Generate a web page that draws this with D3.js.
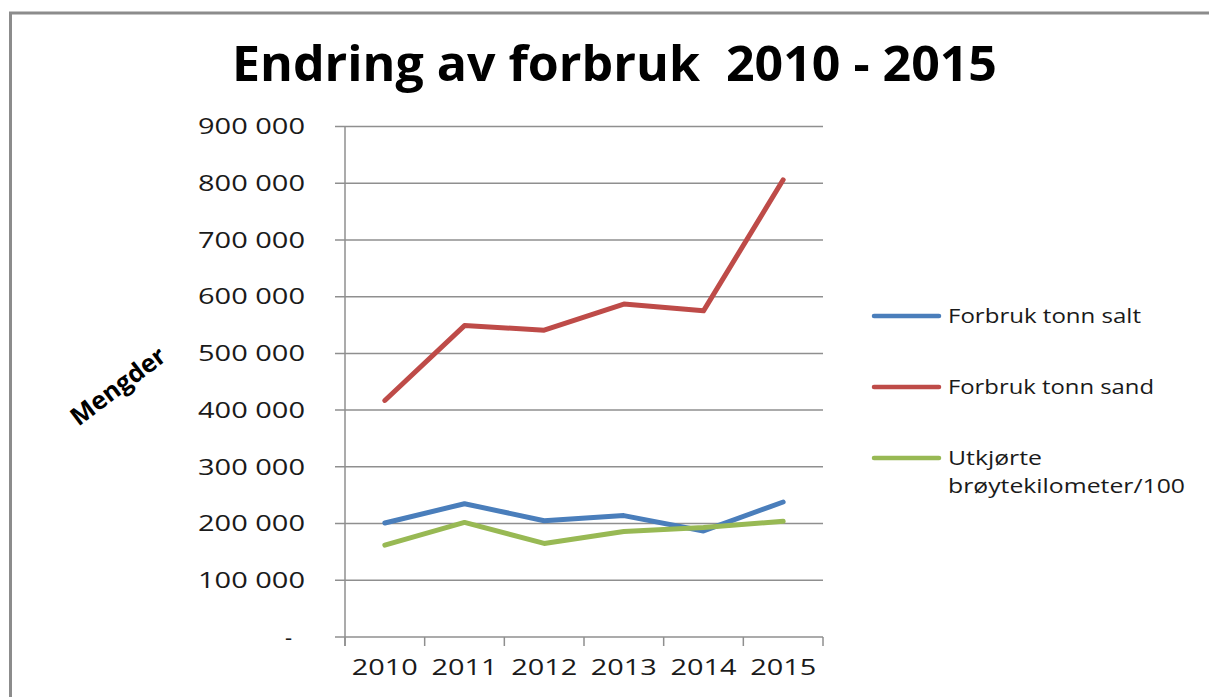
<!DOCTYPE html>
<html>
<head>
<meta charset="utf-8">
<script src="https://cdn.jsdelivr.net/npm/d3@7"></script>
<style>
  body { margin: 0; background: #fff; }
  svg { display: block; }
</style>
</head>
<body>
<svg id="chart" width="1209" height="697"></svg>
<script>
const years = ['2010', '2011', '2012', '2013', '2014', '2015'];
const saltValues = [201000, 235000, 205000, 214000, 187000, 238000];
const sandValues = [417000, 549000, 541000, 587000, 575000, 806000];
const kmValues = [162000, 202000, 165000, 186000, 193000, 204000];
const seriesNames = ['Forbruk tonn salt', 'Forbruk tonn sand', 'Utkjørte brøytekilometer/100'];
const seriesColors = ['#4A7EBB', '#BE4B48', '#98B954'];
const yTicks = [0, 100000, 200000, 300000, 400000, 500000, 600000, 700000, 800000, 900000];

const svg = d3.select('#chart');

// chart frame (only top and left edges visible)
svg.append('rect')
    .attr('x', 10.5).attr('y', 13)
    .attr('width', 1260).attr('height', 760)
    .attr('fill', '#fff')
    .attr('stroke', '#8c8c8c')
    .attr('stroke-width', 3);

svg.append('text')
    .attr('x', 232).attr('y', 81)
    .attr('textLength', 765)
    .attr('lengthAdjust', 'spacingAndGlyphs')
    .style('font-family', '"Open Sans", sans-serif')
    .style('font-weight', 'bold')
    .style('font-size', '48px')
    .style('fill', '#000')
    .style('white-space', 'pre')
    .text('Endring av forbruk  2010 - 2015');

const x = d3.scaleBand().domain(years).range([345, 823]);
const y = d3.scaleLinear().domain([0, 900000]).range([637, 126.5]);

// horizontal gridlines
svg.append('g').selectAll('line')
    .data(yTicks)
    .enter()
    .append('line')
    .attr('x1', 335).attr('x2', 823)
    .attr('y1', d => y(d)).attr('y2', d => y(d))
    .attr('stroke', '#8f8f8f')
    .attr('stroke-width', 1.5);

// y axis line
svg.append('line')
    .attr('x1', 345).attr('x2', 345)
    .attr('y1', y(900000)).attr('y2', 646)
    .attr('stroke', '#8f8f8f')
    .attr('stroke-width', 1.5);

// x ticks at category boundaries
const boundaries = years.map(d => x(d)).concat([x.range()[1]]);
svg.append('g').selectAll('line')
    .data(boundaries)
    .enter()
    .append('line')
    .attr('x1', d => d).attr('x2', d => d)
    .attr('y1', y(0)).attr('y2', 646)
    .attr('stroke', '#8f8f8f')
    .attr('stroke-width', 1.5);

const fmt = v => v === 0 ? '-' : d3.format(',')(v).replace(/,/g, ' ');

svg.append('g').selectAll('text')
    .data(yTicks)
    .enter()
    .append('text')
    .attr('x', d => d === 0 ? 292 : 305)
    .attr('y', d => y(d))
    .attr('dy', '0.35em')
    .attr('text-anchor', 'end')
    .attr('textLength', d => d === 0 ? null : 107)
    .attr('lengthAdjust', 'spacingAndGlyphs')
    .style('font-family', '"Open Sans", sans-serif')
    .style('font-size', '22px')
    .style('fill', '#1a1a1a')
    .text(fmt);

svg.append('g').selectAll('text')
    .data(years)
    .enter()
    .append('text')
    .attr('x', d => x(d) + x.bandwidth() / 2)
    .attr('y', 667)
    .attr('dy', '0.35em')
    .attr('text-anchor', 'middle')
    .attr('textLength', 66)
    .attr('lengthAdjust', 'spacingAndGlyphs')
    .style('font-family', '"Open Sans", sans-serif')
    .style('font-size', '22px')
    .style('fill', '#1a1a1a')
    .text(d => d);

svg.append('text')
    .attr('transform', 'translate(118,386) rotate(-37)')
    .attr('text-anchor', 'middle')
    .attr('dy', '0.35em')
    .attr('textLength', 112)
    .attr('lengthAdjust', 'spacingAndGlyphs')
    .style('font-family', '"Open Sans", sans-serif')
    .style('font-weight', 'bold')
    .style('font-size', '25px')
    .style('fill', '#000')
    .text('Mengder');

// series lines
const allSeries = [saltValues, sandValues, kmValues];
const line = d3.line()
    .x((d, i) => x(years[i]) + x.bandwidth() / 2)
    .y(d => y(d));

svg.append('g').selectAll('path')
    .data(allSeries)
    .enter()
    .append('path')
    .attr('d', line)
    .attr('fill', 'none')
    .attr('stroke', (d, i) => seriesColors[i])
    .attr('stroke-width', 5)
    .attr('stroke-linejoin', 'round')
    .attr('stroke-linecap', 'round');

// legend
const legendY = [316, 387, 458];
const legend = svg.append('g').selectAll('g')
    .data(seriesNames)
    .enter()
    .append('g')
    .attr('transform', (d, i) => `translate(0, ${legendY[i]})`);

legend.append('line')
    .attr('x1', 874).attr('x2', 939)
    .attr('y1', 0).attr('y2', 0)
    .attr('stroke', (d, i) => seriesColors[i])
    .attr('stroke-width', 4.5)
    .attr('stroke-linecap', 'round');

const legendLines = [['Forbruk tonn salt'], ['Forbruk tonn sand'], ['Utkjørte', 'brøytekilometer/100']];
const legendWidths = [[193], [206], [94, 237]];

legend.append('text')
    .style('font-family', '"Open Sans", sans-serif')
    .style('font-size', '20px')
    .style('fill', '#1a1a1a')
    .each(function(d, i) {
        const text = d3.select(this);
        legendLines[i].forEach((part, j) => {
            text.append('tspan')
                .attr('x', 948)
                .attr('y', j * 28)
                .attr('dy', '0.35em')
                .attr('textLength', legendWidths[i][j])
                .attr('lengthAdjust', 'spacingAndGlyphs')
                .text(part);
        });
    });
</script>
</body>
</html>
